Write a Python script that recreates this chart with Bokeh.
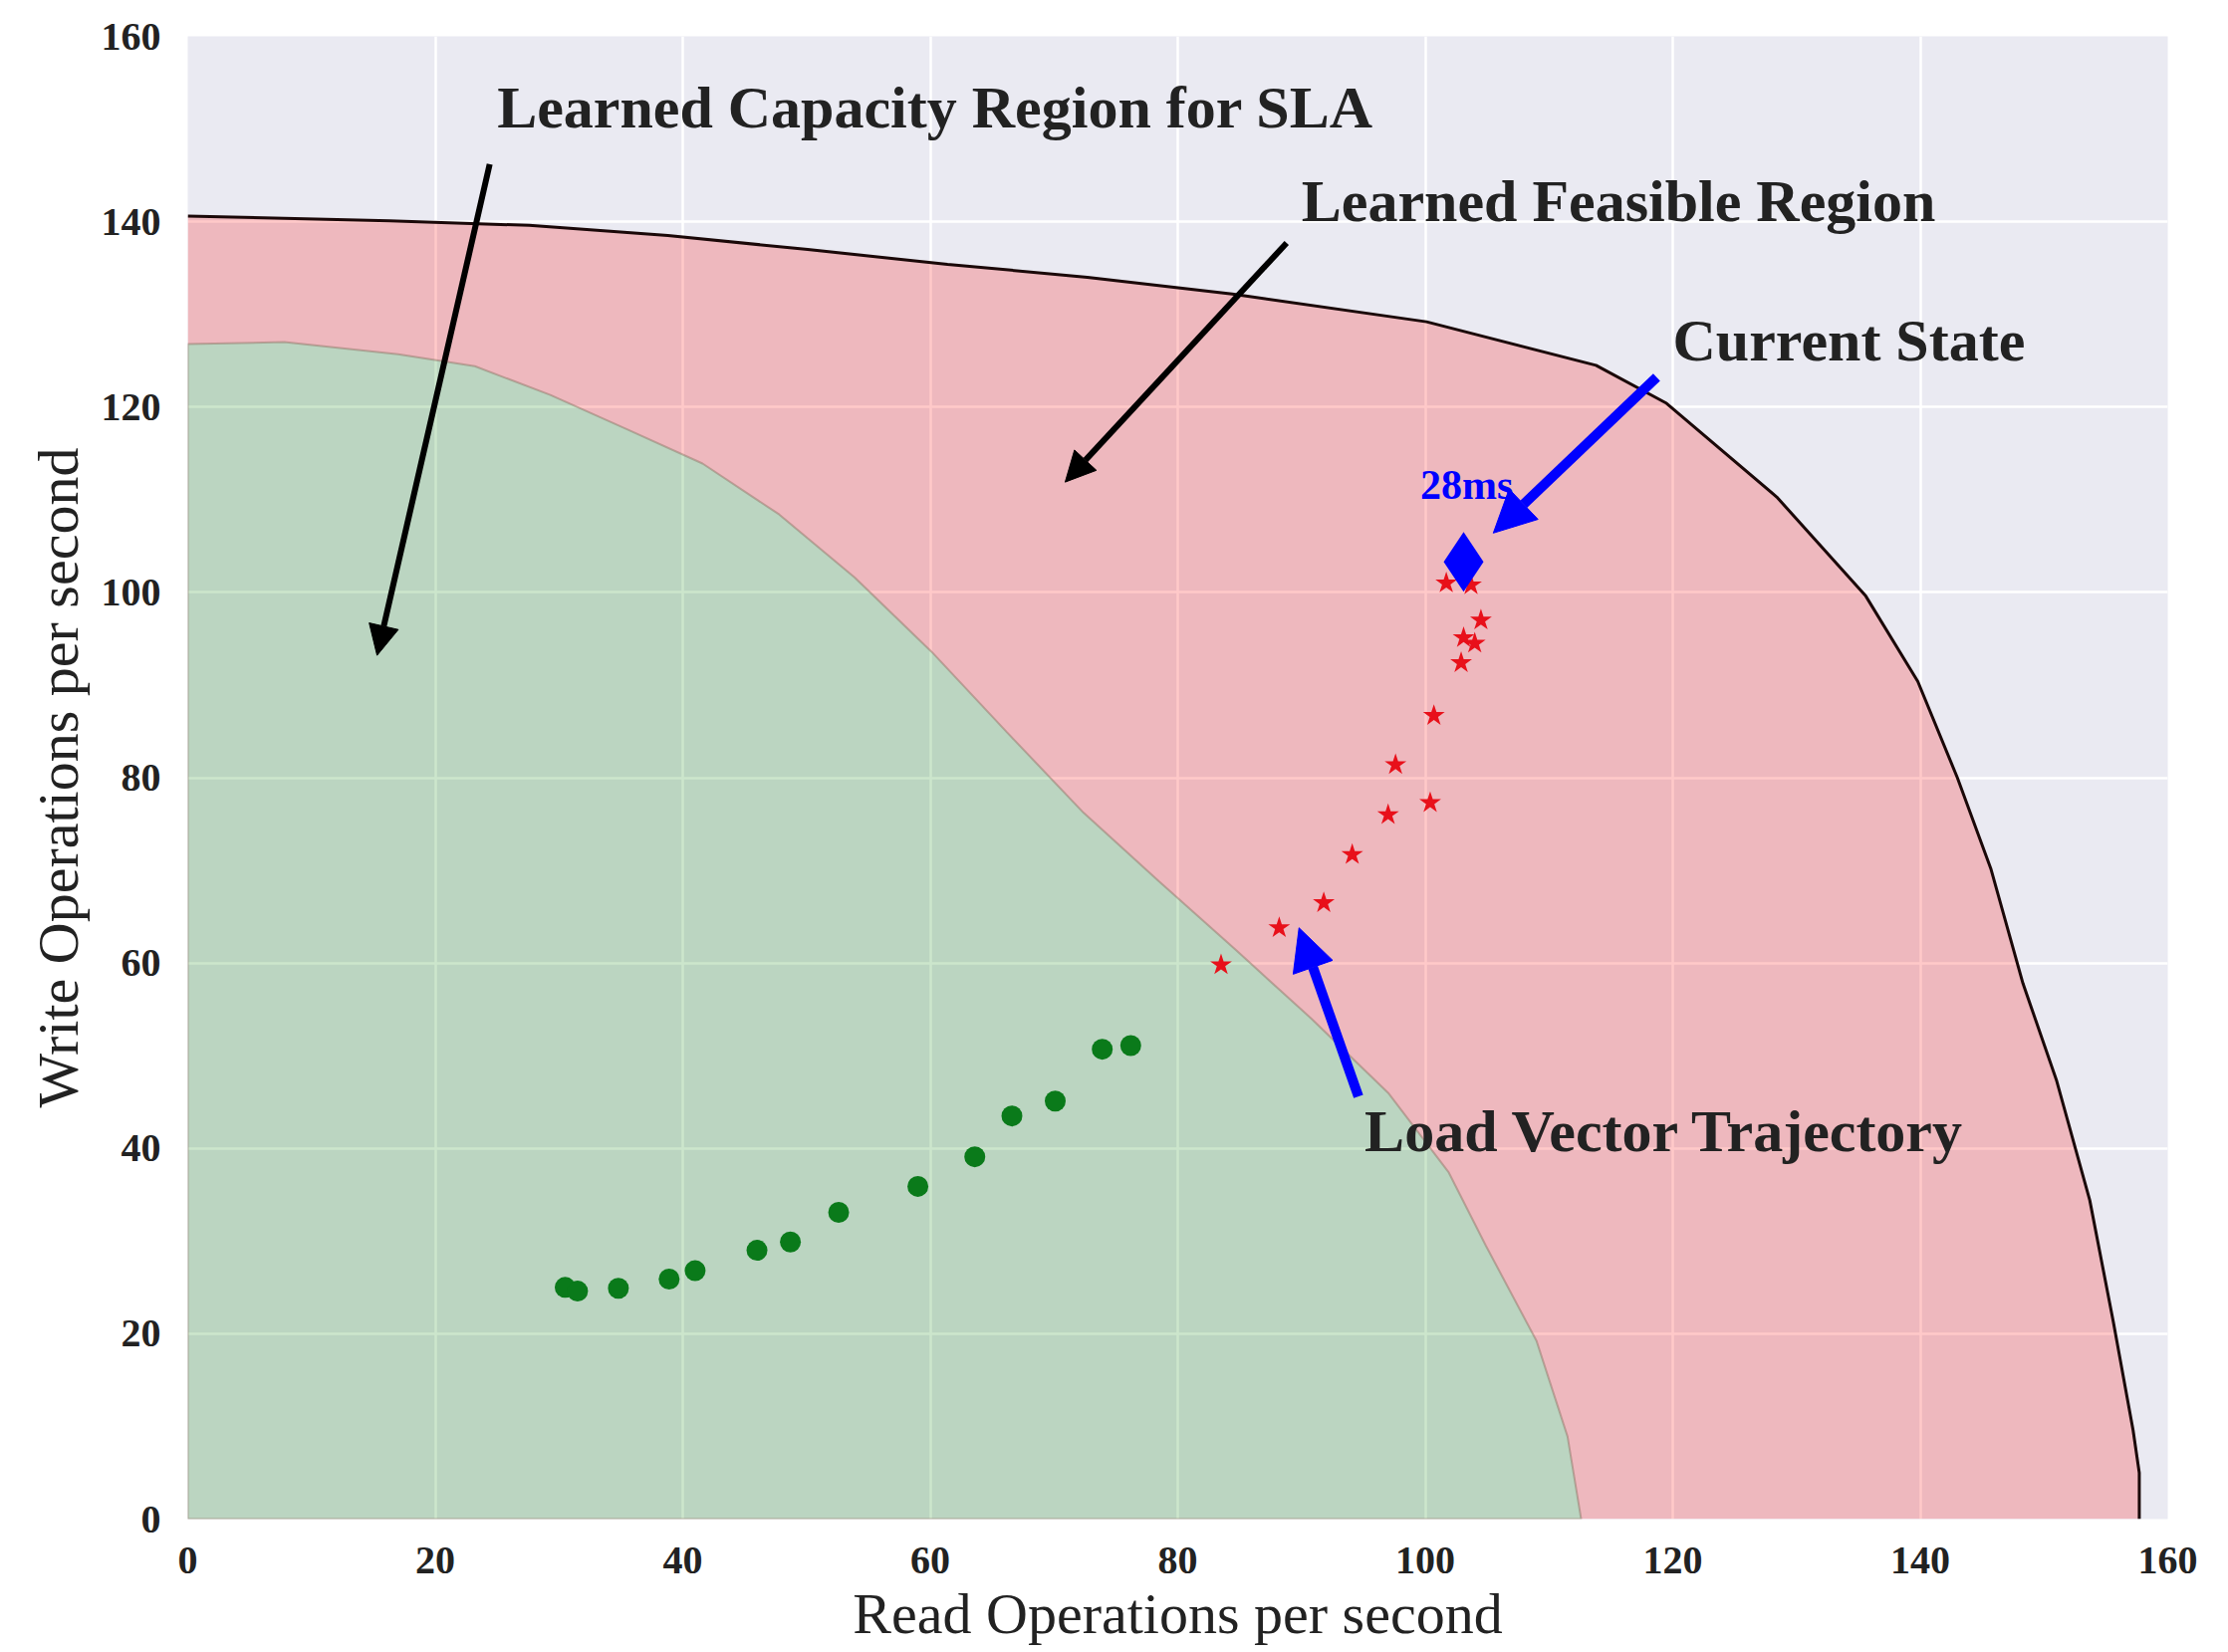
from bokeh.plotting import figure
from bokeh.models import Range1d, FixedTicker, Arrow, NormalHead, ColumnDataSource
from bokeh.core.properties import value
from bokeh.embed import file_html
from bokeh.resources import INLINE

# ---- data ----
ticks = [0, 20, 40, 60, 80, 100, 120, 140, 160]

outer_x = [0, 16.3, 27.6, 38.8, 50.1, 61.4, 72.7, 84.4, 100.1, 113.8, 119.5, 128.4,
           135.6, 139.8, 143.0, 145.7, 148.3, 151.0, 153.7, 155.6, 157.2, 157.7, 157.7]
outer_y = [140.6, 140.1, 139.6, 138.5, 137.0, 135.4, 134.0, 132.2, 129.2, 124.5, 120.4, 110.3,
           99.6, 90.4, 80.0, 70.2, 57.8, 47.4, 34.4, 21.3, 9.6, 5.0, 0]

sla_x = [0, 7.8, 17.0, 23.2, 29.3, 35.5, 41.6, 47.8, 53.9, 60.1, 66.2, 72.4, 78.5,
         84.7, 90.8, 97.0, 101.9, 104.9, 109.0, 111.5, 112.6]
sla_y = [126.8, 127.0, 125.7, 124.4, 121.3, 117.6, 113.9, 108.4, 101.6, 93.6, 84.9, 76.2, 68.8,
         61.4, 54.0, 46.0, 37.4, 29.5, 19.2, 8.9, 0]

green_x = [30.5, 31.5, 34.8, 38.9, 41.0, 46.0, 48.7, 52.6, 59.0, 63.6, 66.6, 70.1, 73.9, 76.2]
green_y = [25.0, 24.6, 24.9, 25.9, 26.8, 29.0, 29.9, 33.1, 35.9, 39.1, 43.5, 45.1, 50.7, 51.1]

red_x = [83.5, 88.2, 91.8, 94.1, 97.0, 100.4, 97.6, 100.7, 102.9, 103.1, 104.0, 104.5, 101.7, 103.7]
red_y = [59.8, 63.8, 66.5, 71.7, 76.0, 77.3, 81.4, 86.7, 92.4, 95.1, 94.5, 97.0, 101.0, 100.8]

current_x = [103.1]
current_y = [103.3]

labels = ["Learned Capacity Region for SLA", "Learned Feasible Region",
          "Current State", "Load Vector Trajectory"]
label_x = [25.0, 90.0, 120.0, 95.1]
label_y = [152.3, 142.2, 127.2, 41.8]

latency_text = ["28ms"]
latency_x = [99.6]
latency_y = [111.6]

black_arrows = [(24.4, 146.2, 15.3, 93.2), (88.8, 137.7, 70.9, 111.9)]
blue_arrows = [(118.7, 123.2, 105.5, 106.4), (94.6, 45.6, 89.8, 63.8)]

x_title = "Read Operations per second"
y_title = "Write Operations per second"

# ---- figure ----
W, H = 2232, 1659
p = figure(width=W, height=H, output_backend="svg", toolbar_location=None,
           x_range=Range1d(0, 160), y_range=Range1d(0, 160),
           min_border_left=188, min_border_right=W - 2176, min_border_top=36,
           min_border_bottom=H - 1525)
p.background_fill_color = "#EAEAF2"
p.border_fill_color = "white"
p.outline_line_color = None

for ax in (p.xaxis, p.yaxis):
    ax.ticker = FixedTicker(ticks=ticks)
    ax.axis_line_color = None
    ax.major_tick_line_color = None
    ax.minor_tick_line_color = None
    ax.major_tick_in = 0
    ax.major_tick_out = 0
    ax.major_label_text_font = "Liberation Serif"
    ax.major_label_text_font_size = "40px"
    ax.major_label_text_font_style = "bold"
    ax.major_label_text_color = "#222222"
    ax.axis_label_text_font = "Liberation Serif"
    ax.axis_label_text_font_size = "58px"
    ax.axis_label_text_font_style = "normal"
    ax.axis_label_text_color = "#222222"

p.xaxis.axis_label = x_title
p.yaxis.axis_label = y_title
p.xaxis.major_label_standoff = 28
p.xaxis.axis_label_standoff = 5
p.yaxis.major_label_standoff = 27
p.yaxis.axis_label_standoff = 8

p.grid.grid_line_color = "white"
p.grid.grid_line_width = 2.5
p.xgrid.ticker = FixedTicker(ticks=ticks)
p.ygrid.ticker = FixedTicker(ticks=ticks)

# feasible (red) region: between the SLA curve and the outer curve
ring_x = outer_x + sla_x[::-1]
ring_y = outer_y + sla_y[::-1]
p.patch(ring_x, ring_y, fill_color="red", fill_alpha=0.21, line_color=None)

# SLA capacity (green) region
p.patch(sla_x + [0], sla_y + [0], fill_color="green", fill_alpha=0.2,
        line_color="#8a6a5a", line_alpha=0.45, line_width=2)

# outer boundary line
p.line(outer_x, outer_y, line_color="#1a0808", line_width=3)

# trajectory points
p.scatter(green_x, green_y, marker="circle", size=21, fill_color="#0a7a1a",
          line_color=None)
p.scatter(red_x, red_y, marker="star", size=23, fill_color="#e8101a",
          line_color=None)
p.scatter(current_x, current_y, marker="diamond", size=60, fill_color="blue",
          line_color=None)

# arrows
for (xs, ys, xe, ye) in black_arrows:
    p.add_layout(Arrow(end=NormalHead(size=30, fill_color="black", line_color="black"),
                       x_start=xs, y_start=ys, x_end=xe, y_end=ye,
                       line_color="black", line_width=6))
for (xs, ys, xe, ye) in blue_arrows:
    p.add_layout(Arrow(end=NormalHead(size=42, fill_color="blue", line_color="blue"),
                       x_start=xs, y_start=ys, x_end=xe, y_end=ye,
                       line_color="blue", line_width=10))

# annotations
src = ColumnDataSource(dict(x=label_x, y=label_y, t=labels))
p.text(x="x", y="y", text="t", source=src, text_font=value("Liberation Serif"),
       text_font_size="60px", text_font_style="bold", text_color="#222222",
       text_align="left", text_baseline="middle")

p.text(x=latency_x, y=latency_y, text=latency_text, text_font=value("Liberation Serif"),
       text_font_size="42px", text_font_style="bold", text_color="blue",
       text_align="left", text_baseline="middle")

open("out.html", "w").write(file_html(p, INLINE))
